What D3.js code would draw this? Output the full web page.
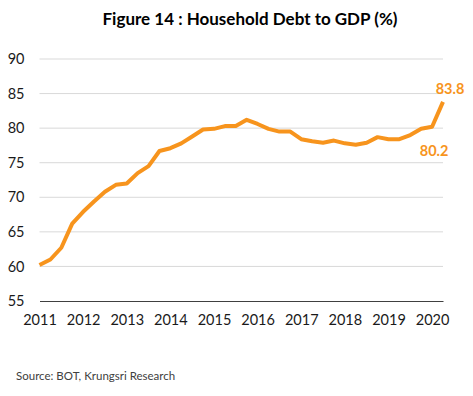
<!DOCTYPE html>
<html>
<head>
<meta charset="utf-8">
<script src="https://cdn.jsdelivr.net/npm/d3@7"></script>
<style>
  body { margin: 0; background: #fff; }
  svg { display: block; font-family: Lato, "Open Sans", sans-serif; }
</style>
</head>
<body>
<div id="chart"></div>
<script>
// quarterly data, 2011Q1 .. 2020Q2
var quarters = [];
for (var y = 2011; y <= 2020; y++) {
  for (var q = 1; q <= 4; q++) {
    if (y === 2020 && q > 2) break;
    quarters.push(y + "Q" + q);
  }
}
var debtToGdp = [60.2, 61.0, 62.7, 66.2, 67.9, 69.4, 70.8, 71.8, 72.0, 73.5,
  74.5, 76.7, 77.1, 77.8, 78.8, 79.8, 79.9, 80.3, 80.3, 81.2,
  80.6, 79.9, 79.5, 79.5, 78.4, 78.1, 77.9, 78.2, 77.8, 77.6,
  77.9, 78.7, 78.4, 78.4, 79.0, 79.9, 80.2, 83.8];
var yTicks = [55, 60, 65, 70, 75, 80, 85, 90];
var labelled = [{ q: "2020Q1", text: "80.2" }, { q: "2020Q2", text: "83.8" }];

var width = 473, height = 396;
var margin = { top: 59, right: 30, bottom: 95, left: 39.5 };
var orange = "#F7941D";

var svg = d3.select("#chart").append("svg")
  .attr("width", width)
  .attr("height", height);

var x = d3.scalePoint()
  .domain(quarters)
  .range([margin.left, width - margin.right]);

var y = d3.scaleLinear()
  .domain([55, 90])
  .range([height - margin.bottom, margin.top]);

// title
svg.append("text")
  .attr("x", 250).attr("y", 25)
  .attr("text-anchor", "middle")
  .attr("font-weight", "bold")
  .attr("font-size", "17px")
  .attr("fill", "#000")
  .text("Figure 14 : Household Debt to GDP (%)");

// gridlines
svg.append("g")
  .selectAll("line")
  .data(yTicks.filter(d => d > 55))
  .join("line")
  .attr("x1", x.range()[0]).attr("x2", x.range()[1])
  .attr("y1", d => y(d)).attr("y2", d => y(d))
  .attr("stroke", "#d9d9d9")
  .attr("stroke-width", 1);

// y axis labels
var yAxis = svg.append("g")
  .attr("transform", "translate(" + (margin.left - 15) + ",0)")
  .call(d3.axisLeft(y).tickValues(yTicks).tickSize(0).tickPadding(0));
yAxis.select(".domain").remove();
yAxis.selectAll("text")
  .attr("font-size", "14.5px")
  .attr("font-family", "Lato, sans-serif")
  .attr("fill", "#1a1a1a");

// x axis (baseline + years)
var xAxis = svg.append("g")
  .attr("transform", "translate(0," + y(55) + ")")
  .call(d3.axisBottom(x)
    .tickValues(quarters.filter(d => d.endsWith("Q1")))
    .tickFormat(d => d.slice(0, 4))
    .tickSize(0).tickPadding(14));
xAxis.select(".domain")
  .attr("stroke", "#404040")
  .attr("stroke-width", 1.2);
xAxis.selectAll("text")
  .attr("font-size", "14.5px")
  .attr("font-family", "Lato, sans-serif")
  .attr("fill", "#1a1a1a");

// line
var line = d3.line()
  .x((d, i) => x(quarters[i]))
  .y(d => y(d));

svg.append("path")
  .datum(debtToGdp)
  .attr("fill", "none")
  .attr("stroke", orange)
  .attr("stroke-width", 4)
  .attr("stroke-linejoin", "round")
  .attr("d", line);

// data labels
svg.append("g")
  .selectAll("text")
  .data(labelled)
  .join("text")
  .attr("x", d => d.q === "2020Q2" ? x(d.q) + 7 : x(d.q) + 2)
  .attr("y", d => d.q === "2020Q2" ? y(debtToGdp[quarters.indexOf(d.q)]) - 8 : y(debtToGdp[quarters.indexOf(d.q)]) + 29)
  .attr("text-anchor", "middle")
  .attr("font-weight", "bold")
  .attr("font-size", "14.5px")
  .attr("fill", orange)
  .text(d => d.text);

// source
svg.append("text")
  .attr("x", 16).attr("y", 380)
  .attr("font-size", "11.5px")
  .attr("fill", "#404040")
  .text("Source: BOT, Krungsri Research");
</script>
</body>
</html>
